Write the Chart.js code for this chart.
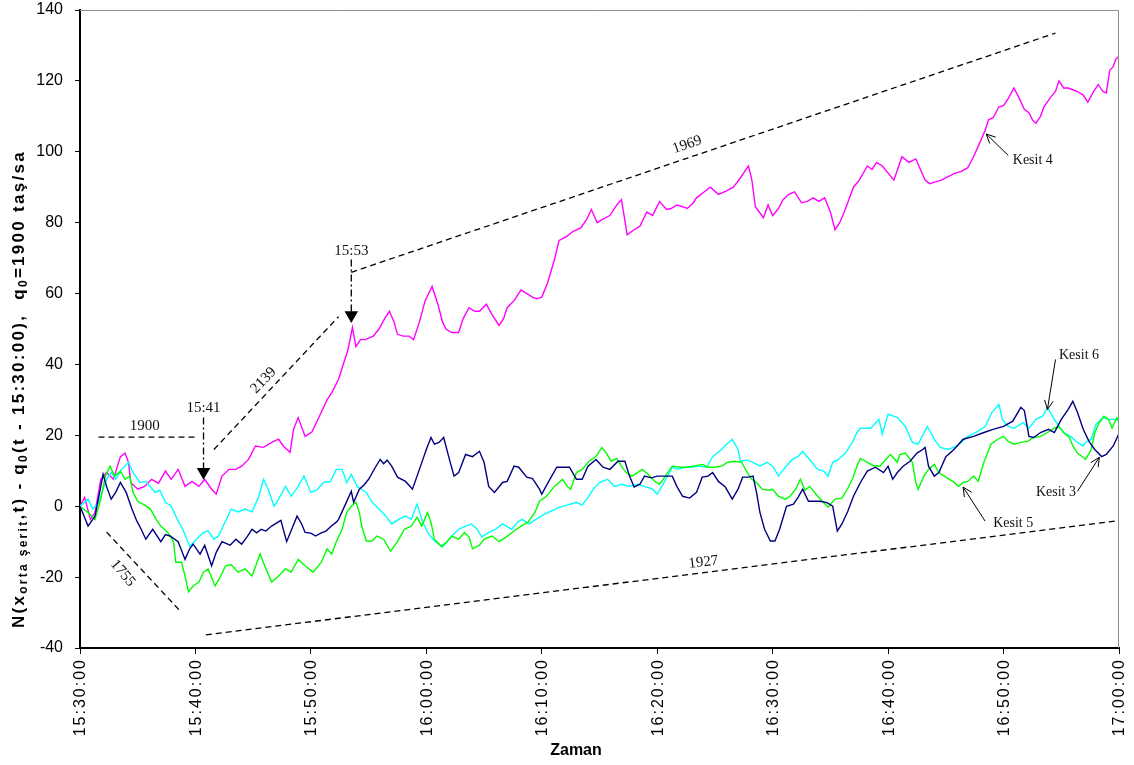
<!DOCTYPE html>
<html>
<head>
<meta charset="utf-8">
<script src="https://cdn.jsdelivr.net/npm/chart.js@4.4.0/dist/chart.umd.min.js"></script>
<style>
  html, body { margin: 0; padding: 0; background: #fff; }
</style>
</head>
<body>
<canvas id="chart" width="1134" height="765"></canvas>
<script>
// x values are minutes after 15:30:00
const zamanDakika = [0, 10, 20, 30, 40, 50, 60, 70, 80, 90];
const zamanEtiketleri = ['15:30:00', '15:40:00', '15:50:00', '16:00:00', '16:10:00',
    '16:20:00', '16:30:00', '16:40:00', '16:50:00', '17:00:00'];

// [minute, value]
const kesit3 = [[0,0],[0.7,-5.6],[1.3,-2.8],[2,9],[2.3,5.6],[2.7,2],[3.1,4],[3.5,6.7],[4,3.9],[4.5,-0.8],[4.9,-4],[5.3,-6.5],[5.7,-9.3],[6.3,-6.5],[7,-10],[7.4,-8],[7.8,-8.4],[8.5,-10],[9.1,-15],[9.5,-12],[9.8,-10.7],[10.4,-13.5],[10.8,-11],[11.4,-16.8],[11.8,-13],[12.3,-10],[13,-11],[13.5,-9.3],[14,-10.7],[14.5,-8.5],[14.9,-6.5],[15.3,-7.5],[15.7,-6.5],[16.1,-7],[16.6,-5.6],[17.4,-4],[17.9,-10],[18.4,-6],[18.8,-2.8],[19.2,-5],[19.5,-7.4],[20,-7.6],[20.4,-8.4],[20.9,-7.5],[21.3,-7],[21.8,-5.5],[22.2,-4.5],[22.4,-3.7],[23,0.6],[23.5,4.2],[23.7,1.1],[24.2,4.8],[24.6,6],[25,7.6],[25.5,10.5],[26,13.2],[26.3,12],[26.6,13],[27,11.3],[27.5,8.2],[28.2,7],[28.8,4.8],[29.4,10.4],[30,16],[30.4,19.4],[30.7,17.5],[31.1,18],[31.5,19.4],[32,13.2],[32.4,8.5],[32.8,9.5],[33.4,14.6],[34,14],[34.6,15.5],[35,12.4],[35.4,5.6],[35.9,3.9],[36.6,6.7],[37,7],[37.6,11.3],[38,11],[38.7,8.2],[39.2,7.8],[39.8,4.8],[40,3.4],[40.7,7.6],[41.3,11],[41.8,11],[42.4,11],[43,7.6],[43.5,7.6],[44,11.3],[44.7,13.2],[45.3,11],[45.9,10.4],[46.6,12.7],[47.2,12.7],[47.6,8.5],[48,5.4],[48.5,6.2],[48.9,8.5],[49.5,8],[50,8.5],[50.6,8.5],[51.3,8.5],[51.7,5.6],[52.2,2.8],[52.8,2.3],[53.4,3.9],[53.9,8.2],[54.4,8.5],[54.8,9.5],[55.3,7],[55.9,5.4],[56.5,2],[57,4.8],[57.4,8.2],[57.9,8.2],[58.3,8.5],[58.6,3.9],[58.9,-1.8],[59.3,-6.5],[59.8,-9.8],[60.2,-9.8],[60.6,-6.5],[61.2,0],[61.8,0.6],[62.2,2.5],[62.6,4.8],[63.1,1.4],[63.5,1.4],[64.1,1.4],[64.7,1],[65.2,0],[65.6,-7],[66,-5],[66.5,-1.5],[67,2.8],[67.6,6.7],[68.2,9.9],[68.9,11],[69.6,9.5],[70,11.3],[70.4,7.6],[70.8,9.5],[71.3,11.3],[71.9,12.7],[72.5,15],[73,16],[73.2,16.6],[73.5,11.3],[74,8.5],[74.4,9.5],[75,14],[75.7,16],[76.5,18.9],[77.4,19.7],[78.3,20.8],[79.1,21.7],[80,22.5],[80.8,24],[81.5,27.9],[81.8,27],[82.2,19.7],[82.6,19.4],[83.2,20.8],[83.9,21.7],[84.4,20.8],[85,24.5],[85.6,27.3],[86,29.6],[86.4,26.5],[86.9,21.7],[87.4,18.3],[87.9,16],[88.5,14],[88.9,14.6],[89.5,17],[90,20.5]];

const kesit4 = [[0,0],[0.4,2.5],[0.9,-3.7],[1.3,-1.8],[1.8,7.6],[2.3,9.5],[2.9,7.6],[3.5,14],[3.9,15],[4.2,12.4],[4.4,6.7],[5,4.8],[5.6,5.6],[6.2,7.6],[6.8,6.5],[7.4,9.9],[7.9,7.6],[8.5,10.4],[9.1,5.6],[9.7,7],[10.3,5.6],[10.8,7.6],[11.4,4.8],[11.8,3.4],[12.3,8.5],[12.9,10.4],[13.5,10.4],[14,11.3],[14.6,13.2],[15.2,17],[15.9,16.6],[16.6,18],[17.2,18.9],[17.6,17],[18.2,15.2],[18.5,21.7],[18.9,25],[19.5,19.7],[20.1,21],[20.9,26.5],[21.4,30],[21.8,32],[22.4,35.8],[22.8,40],[23.2,44],[23.6,50.4],[23.9,45],[24.3,47],[24.7,47],[25.4,48],[25.9,50],[26.4,53],[26.8,55],[27.2,52],[27.5,48.5],[28,48],[28.5,48],[28.9,47],[29.4,52],[29.9,58],[30.5,62],[31,57],[31.4,52],[31.7,50],[32.2,49],[32.8,49],[33.2,53],[33.7,56],[34.2,55],[34.6,55],[35.2,57],[35.7,54],[36.3,51],[36.7,53],[37,56],[37.6,58],[38.2,61],[38.7,60],[39.2,59],[39.6,58.5],[40,59],[40.5,63],[41.1,69.6],[41.5,75],[42.1,76],[42.7,77.5],[43.4,78.6],[43.9,81],[44.3,83.7],[44.8,80],[45.3,81],[45.9,82],[46.5,85],[46.9,86.5],[47.4,76.6],[48,78],[48.5,79],[49.1,83],[49.6,82],[50.2,86],[50.8,83.7],[51.2,84],[51.7,85],[52.2,84.5],[52.6,84],[53.1,85.5],[53.4,87],[54,88.5],[54.6,90],[55.3,88],[56,89],[56.6,90],[57.2,92.6],[57.9,96],[58.2,92],[58.5,84.5],[59.2,81.4],[59.6,85],[60,82],[60.5,84],[60.9,86.5],[61.4,88],[61.9,88.7],[62.5,85.6],[63,86],[63.5,87],[64,86],[64.5,87],[65,83],[65.4,78],[65.8,80],[66.2,83],[66.5,85.6],[67,90],[67.5,92],[68.2,96],[68.6,95],[69,97],[69.5,96],[69.9,94.4],[70.5,92],[71.2,98.6],[71.8,97],[72.4,98],[72.8,95],[73.2,92],[73.6,91],[74.1,91.5],[74.6,92],[75.2,93],[75.8,94],[76.3,94.4],[76.9,95.5],[77.4,98.6],[78,103],[78.4,106],[78.7,109],[79.1,109.6],[79.6,112.7],[80,113],[80.4,115],[80.9,118],[81.3,115.5],[81.8,112],[82.2,111],[82.5,109],[82.8,108],[83.2,110],[83.5,112.7],[84.1,115.5],[84.5,117],[84.8,120],[85.2,118],[85.6,118],[86,117.5],[86.4,117],[86.9,116],[87.3,114],[87.8,117],[88.2,119],[88.6,117],[88.9,116.6],[89.2,123],[89.5,124],[89.7,126],[90,127]];

const kesit5 = [[0,0],[0.7,-1.8],[1.3,-3.7],[1.8,2],[2.2,8.5],[2.6,11.3],[3,8.5],[3.5,9.9],[3.9,7.6],[4.3,8.5],[4.6,3.9],[5,1.4],[5.6,0.3],[6.1,-0.8],[6.6,-3.7],[7,-5.6],[7.6,-7.4],[8.1,-10],[8.3,-15.8],[8.8,-15.8],[9.1,-19.7],[9.4,-24.2],[9.8,-22.5],[10.3,-21.4],[10.7,-18.6],[11.1,-17.7],[11.7,-22.5],[12.2,-19.7],[12.6,-16.8],[13.1,-16.5],[13.7,-18.6],[14.3,-17.7],[14.9,-19.7],[15.6,-13.5],[16,-16.8],[16.6,-21.4],[17.2,-19.7],[17.8,-17.7],[18.3,-18.6],[18.9,-15],[19.5,-16.8],[20.2,-18.6],[20.9,-15.8],[21.4,-12],[21.8,-13.5],[22.2,-10],[22.7,-6.5],[23.1,-1.8],[23.5,0],[23.9,1.1],[24.2,-1.8],[24.4,-5.6],[24.8,-9.8],[25.3,-9.8],[25.7,-8.4],[26.3,-9.3],[26.9,-12.7],[27.5,-10],[28.1,-6.5],[28.7,-5.6],[29.2,-3.1],[29.6,-5.6],[30.1,-1.8],[30.4,-4.5],[30.7,-9.3],[31.3,-11.3],[31.8,-10],[32.2,-8.4],[32.8,-9.3],[33.3,-7.4],[33.7,-8.7],[34,-12],[34.6,-11],[35,-9.3],[35.7,-8.4],[36.3,-10],[36.9,-8.7],[37.6,-7],[38.2,-5.6],[38.8,-4.5],[39.4,-1.8],[39.8,1.4],[40.4,2.8],[41.1,5.6],[41.8,7.6],[42.2,5.6],[42.5,4.8],[43,9.5],[43.5,10.4],[44.1,12.7],[44.7,14],[45.2,16.6],[45.6,15],[46,12.7],[46.5,13.5],[46.9,11.3],[47.3,9.5],[47.8,8.5],[48.3,9.5],[48.7,10.4],[49.2,9],[49.8,7],[50.2,6.2],[50.6,8],[51.3,11.3],[52,11],[52.6,11],[53.1,11.3],[53.9,11.8],[54.4,11],[55,11],[55.6,11.3],[56.1,12.4],[56.7,12.7],[57.3,12.4],[57.8,9.5],[58.2,7.6],[58.6,6.7],[59.1,4.8],[59.6,4.5],[60,4.8],[60.5,2.8],[61.1,2],[61.5,2.8],[62,4.8],[62.4,7.6],[62.8,4.5],[63.2,5.6],[63.9,2.8],[64.4,1.1],[64.8,-0.3],[65.4,2],[66,2.3],[66.5,5],[66.9,7.6],[67.3,11.3],[67.6,13.5],[68.2,12.4],[68.7,11.5],[69.3,11.3],[69.8,13.2],[70.2,14.6],[70.8,12.4],[71,14.6],[71.5,15],[72.1,12.4],[72.4,6.7],[72.6,4.8],[73.1,8.5],[73.5,10.4],[74,11.8],[74.4,9.5],[75,8.2],[75.6,7],[76.1,5.6],[76.5,6.7],[76.9,7],[77.4,8.5],[77.8,7],[78.3,12.4],[78.9,17.5],[79.5,18.9],[80,19.7],[80.4,18.3],[80.9,17.5],[81.5,18],[82.1,18.3],[82.6,19.4],[83.2,19.7],[83.8,20.8],[84.4,22],[84.8,22.5],[85.2,20.8],[85.7,19.4],[86,17],[86.4,15],[86.9,13.8],[87.1,13.2],[87.6,16],[87.9,20.8],[88.3,23.6],[88.7,25.4],[89.1,24.5],[89.4,22],[89.8,25],[90,24]];

const kesit6 = [[0,0],[0.7,2],[1.1,-0.8],[1.6,1],[2.3,7.6],[2.7,9.5],[3.1,7.6],[3.6,10.4],[4.2,12.4],[4.6,9.5],[5.2,6.7],[5.7,7],[6.1,5.5],[6.5,3.9],[6.9,4.5],[7.4,1.1],[7.9,0],[8.5,-4.2],[8.9,-6.5],[9.5,-11.3],[10.1,-9.3],[10.7,-7.4],[11.1,-7],[11.6,-9.3],[12,-8.4],[12.4,-5.6],[13.1,-0.8],[13.7,-1.6],[14.3,-0.8],[14.9,-1.6],[15.5,2.8],[15.9,7.6],[16.3,4.8],[16.8,0],[17.2,2],[17.8,5.6],[18.3,2.8],[18.9,5.6],[19.4,8.5],[20,3.9],[20.5,4.5],[21.1,6.7],[21.7,7],[22.2,10.4],[22.7,10.4],[23.1,6.7],[23.5,9],[24,5.6],[24.8,3.9],[25.3,1.1],[25.9,-0.8],[26.5,-2.8],[27,-5],[27.6,-3.7],[28.2,-2.8],[28.7,-3.7],[29.2,0.6],[29.6,-3.7],[30.1,-7.4],[30.7,-9.8],[31.4,-11.5],[31.8,-10],[32.2,-8.4],[32.8,-6.5],[33.4,-5.6],[33.9,-5],[34.4,-6.5],[34.8,-8.7],[35.4,-7.4],[36,-6.5],[36.6,-5],[37.4,-6.5],[37.9,-4.5],[38.3,-3.7],[38.9,-5],[39.5,-3.7],[40.2,-2.3],[40.8,-1.4],[41.5,-0.3],[42.2,0.3],[43,1.1],[43.5,0.3],[44,2.5],[44.5,5],[45,6.7],[45.7,7.6],[46.3,5.6],[46.9,6.2],[47.6,5.6],[48.3,6.2],[49.1,5.4],[49.6,4.8],[50,3.4],[50.6,6.7],[51.3,11],[51.8,10.4],[52.4,11],[53,11],[53.7,11.3],[54.3,11],[54.8,14],[55.4,15.5],[56,17.5],[56.5,18.9],[57,16],[57.2,12.7],[57.8,13],[58.3,12.4],[58.9,11.3],[59.5,12.4],[60,11.3],[60.5,8.5],[61.1,11],[61.7,13.2],[62.2,14],[62.6,15.5],[63.2,13.2],[63.9,10.4],[64.4,9.9],[64.8,8.5],[65.2,12.4],[65.7,13.2],[66.3,15],[66.9,18],[67.3,20.8],[67.6,22],[68.5,22],[69.2,24.5],[69.5,20.3],[70,26],[70.8,25],[71.5,22.5],[72.1,18],[72.6,17.5],[73.4,22.5],[74,18.9],[74.5,16.6],[75.2,16],[76,17],[76.9,19.7],[77.7,21],[78.4,22.5],[79,26.5],[79.6,28.7],[79.9,24.5],[80.4,22.5],[80.9,22],[81.7,23.6],[82.2,22],[82.8,24.5],[83.4,25.4],[83.8,27.9],[84.4,24.5],[84.8,22.5],[85.2,20.8],[85.8,19.7],[86.4,18],[86.9,17],[87.1,18],[87.6,18.9],[88,23],[88.6,25],[89.1,24.5],[89.7,24.5],[90,24]];

// guide lines (dashed) and time markers, [minute, value]
const cizgi1900 = [[1.6, 19.5], [10.1, 19.5]];
const cizgi2139 = [[11.6, 16], [22.4, 53.5]];
const cizgi1969 = [[23.5, 66], [84.5, 133.5]];
const cizgi1755 = [[2.3, -7.3], [8.6, -29.3]];
const cizgi1927 = [[10.9, -36.3], [89.7, -4.2]];
const ok1541 = [[10.7, 25], [10.7, 9.7]];
const ok1553 = [[23.5, 69.6], [23.5, 53.9]];

const notMetin = ['1900', '15:41', '2139', '15:53', '1969', '1755', '1927'];
const notYeri = [[5.6, 22.5], [10.7, 27.6], [15.9, 35.5], [23.5, 72], [52.6, 102], [3.7, -18.9], [54, -15.8]];
const notAci = [0, 0, -46, 0, -19, 50, -7];

const kesitAdlari = ['Kesit 4', 'Kesit 6', 'Kesit 3', 'Kesit 5'];
const kesitYazi = [[80.8, 97.7], [84.8, 42.5], [82.8, 3.9], [79.1, -4.8]];
const kesitOkBas = [[80.4, 99], [84.5, 41.4], [86.4, 4.2], [78.4, -4.2]];
const kesitOkUc = [[78.5, 105], [83.8, 27.3], [88.3, 13.8], [76.5, 5.4]];

const toXY = arr => arr.map(p => ({ x: p[0], y: p[1] }));

const seriesDs = (data, color) => ({
    data: toXY(data),
    borderColor: color,
    borderWidth: 1.4,
    pointRadius: 0,
    fill: false
});

const guideDs = (data) => ({
    data: toXY(data),
    borderColor: '#000',
    borderWidth: 1.3,
    borderDash: [6, 4],
    pointRadius: 0,
    fill: false
});

const arrowDs = (data) => ({
    data: toXY(data),
    borderColor: '#000',
    borderWidth: 1.3,
    borderDash: [7, 3, 2, 3],
    pointStyle: 'triangle',
    pointRotation: 180,
    pointRadius: ctx => ctx.dataIndex === 1 ? 6.5 : 0,
    pointBackgroundColor: '#000',
    pointBorderColor: '#000',
    fill: false
});

const SANS = "'Liberation Sans', Arial, sans-serif";
const SERIF = "'Liberation Serif', 'Times New Roman', serif";

// text, arrows, frame and axis labels drawn on top
const extrasPlugin = {
    id: 'extras',
    afterDraw(chart) {
        const ctx = chart.ctx;
        const xs = chart.scales.x, ys = chart.scales.y;
        const area = chart.chartArea;
        const px = p => [xs.getPixelForValue(p[0]), ys.getPixelForValue(p[1])];

        // grey frame on top and right
        ctx.save();
        ctx.strokeStyle = '#8c8c8c';
        ctx.lineWidth = 1;
        ctx.beginPath();
        ctx.moveTo(area.left, area.top + 0.5);
        ctx.lineTo(area.right - 0.5, area.top + 0.5);
        ctx.lineTo(area.right - 0.5, area.bottom);
        ctx.stroke();
        ctx.restore();

        // guide labels
        ctx.save();
        ctx.fillStyle = '#111';
        ctx.font = '15px ' + SERIF;
        ctx.textAlign = 'center';
        ctx.textBaseline = 'middle';
        notMetin.forEach((t, i) => {
            const [x, y] = px(notYeri[i]);
            ctx.save();
            ctx.translate(x, y);
            ctx.rotate(notAci[i] * Math.PI / 180);
            ctx.fillText(t, 0, 0);
            ctx.restore();
        });
        ctx.restore();

        // Kesit labels with arrows
        ctx.save();
        ctx.fillStyle = '#111';
        ctx.strokeStyle = '#000';
        ctx.lineWidth = 1;
        ctx.font = '14px ' + SERIF;
        ctx.textAlign = 'left';
        ctx.textBaseline = 'middle';
        kesitAdlari.forEach((t, i) => {
            const [tx, ty] = px(kesitYazi[i]);
            ctx.fillText(t, tx, ty);
            const [x0, y0] = px(kesitOkBas[i]);
            const [x1, y1] = px(kesitOkUc[i]);
            const a = Math.atan2(y1 - y0, x1 - x0);
            ctx.beginPath();
            ctx.moveTo(x0, y0);
            ctx.lineTo(x1, y1);
            ctx.moveTo(x1 - 10 * Math.cos(a - 0.45), y1 - 10 * Math.sin(a - 0.45));
            ctx.lineTo(x1, y1);
            ctx.lineTo(x1 - 10 * Math.cos(a + 0.45), y1 - 10 * Math.sin(a + 0.45));
            ctx.stroke();
        });
        ctx.restore();

        // x tick labels, vertical
        ctx.save();
        ctx.fillStyle = '#000';
        ctx.font = '16px ' + SANS;
        ctx.textAlign = 'right';
        ctx.textBaseline = 'middle';
        ctx.letterSpacing = '2px';
        zamanEtiketleri.forEach((t, i) => {
            ctx.save();
            ctx.translate(xs.getPixelForValue(zamanDakika[i]) + 1, area.bottom + 10);
            ctx.rotate(-Math.PI / 2);
            ctx.fillText(t, 0, 0);
            ctx.restore();
        });
        ctx.restore();

        // x title
        ctx.save();
        ctx.fillStyle = '#000';
        ctx.font = 'bold 16px ' + SANS;
        ctx.textAlign = 'center';
        ctx.textBaseline = 'middle';
        ctx.fillText('Zaman', 576, 751);
        ctx.restore();

        // y title with subscripts, stretched to the reference length
        const parts = [['N(x', 0], ['orta şerit', 1], [',t) - q', 0], ['0', 1],
            ['(t - 15:30:00),  q', 0], ['0', 1], ['=1900 taş/sa', 0]];
        const bigF = 'bold 17px ' + SANS, smallF = 'bold 12px ' + SANS;
        ctx.save();
        ctx.fillStyle = '#000';
        ctx.textBaseline = 'middle';
        ctx.textAlign = 'left';
        let raw = 0, chars = 0;
        parts.forEach(p => {
            ctx.font = p[1] ? smallF : bigF;
            raw += ctx.measureText(p[0]).width;
            chars += p[0].length;
        });
        const spacing = Math.max(0, (478 - raw) / chars);
        ctx.letterSpacing = spacing.toFixed(2) + 'px';
        let total = 0;
        parts.forEach(p => { ctx.font = p[1] ? smallF : bigF; total += ctx.measureText(p[0]).width; });
        ctx.translate(19, 389);
        ctx.rotate(-Math.PI / 2);
        let cx = -total / 2;
        parts.forEach(p => {
            ctx.font = p[1] ? smallF : bigF;
            ctx.fillText(p[0], cx, p[1] ? 5 : 0);
            cx += ctx.measureText(p[0]).width;
        });
        ctx.restore();
    }
};

new Chart(document.getElementById('chart'), {
    type: 'line',
    data: {
        datasets: [
            arrowDs(ok1541),
            arrowDs(ok1553),
            guideDs(cizgi1900),
            guideDs(cizgi2139),
            guideDs(cizgi1969),
            guideDs(cizgi1755),
            guideDs(cizgi1927),
            seriesDs(kesit3, '#000080'),
            seriesDs(kesit5, '#00ff00'),
            seriesDs(kesit6, '#00ffff'),
            seriesDs(kesit4, '#ff00ff')
        ]
    },
    options: {
        responsive: false,
        animation: false,
        devicePixelRatio: 1,
        layout: { padding: { top: 10, right: 15, left: 0, bottom: 0 } },
        plugins: {
            legend: { display: false },
            tooltip: { enabled: false }
        },
        elements: { line: { tension: 0 } },
        scales: {
            x: {
                type: 'linear',
                min: 0,
                max: 90,
                ticks: { stepSize: 10, display: false },
                grid: { drawOnChartArea: false, drawTicks: true, tickLength: 6, color: '#000' },
                border: { color: '#000', width: 2 },
                afterFit: s => { s.height = 117; s.paddingLeft = 0; s.paddingRight = 0; }
            },
            y: {
                type: 'linear',
                min: -40,
                max: 140,
                ticks: {
                    stepSize: 20,
                    color: '#000',
                    padding: 12,
                    font: { family: SANS, size: 16 }
                },
                grid: { drawOnChartArea: false, drawTicks: true, tickLength: 5, color: '#000' },
                border: { color: '#000', width: 2 },
                afterFit: s => { s.width = 80; s.paddingTop = 0; s.paddingBottom = 0; }
            }
        }
    },
    plugins: [extrasPlugin]
});
</script>
</body>
</html>
